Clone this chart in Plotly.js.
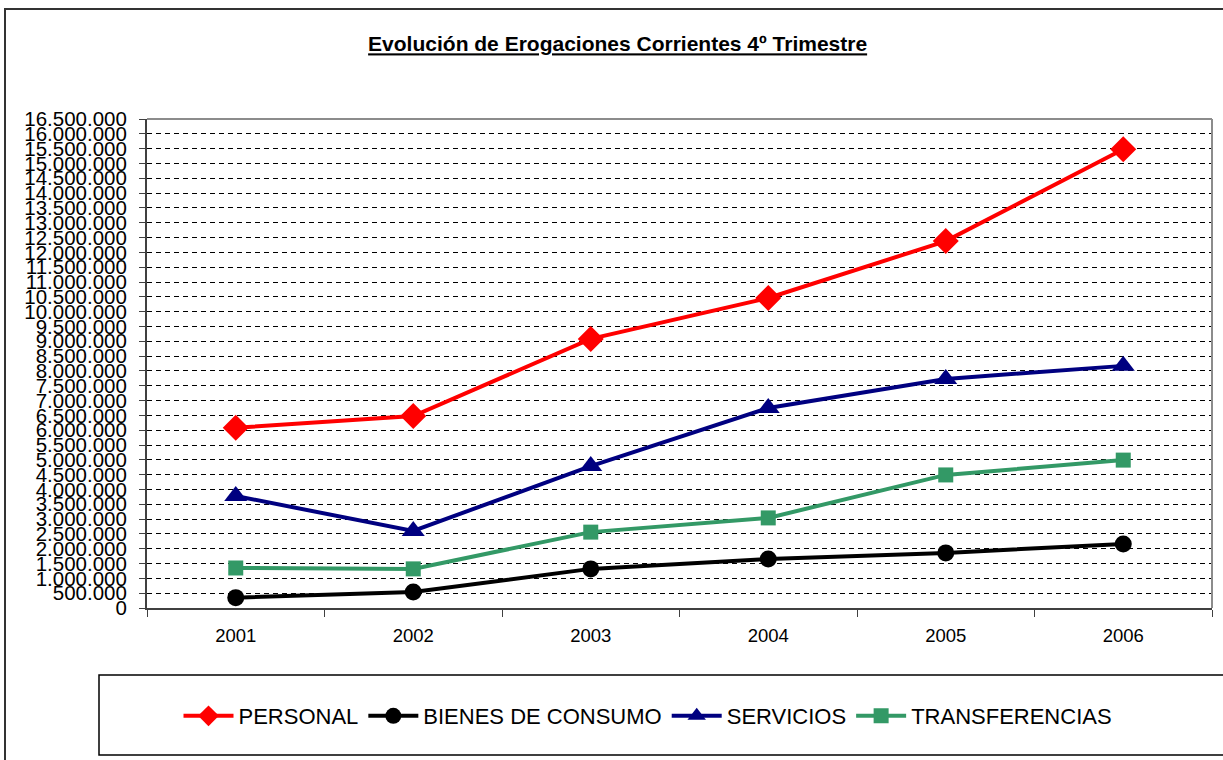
<!DOCTYPE html>
<html>
<head>
<meta charset="utf-8">
<script src="https://cdn.plot.ly/plotly-3.0.1.min.js"></script>
<style>html,body{margin:0;padding:0;background:#fff;}#chart{width:1223px;height:760px;}</style>
</head>
<body>
<div id="chart"></div>
<script>
const years = ['2001', '2002', '2003', '2004', '2005', '2006'];
const personal = [6080000, 6480000, 9080000, 10460000, 12380000, 15480000];
const bienes = [350000, 540000, 1320000, 1650000, 1860000, 2160000];
const servicios = [3780000, 2600000, 4790000, 6750000, 7730000, 8170000];
const transferencias = [1350000, 1320000, 2560000, 3040000, 4490000, 4990000];
const yTicks = [];
for (let v = 0; v <= 16500000; v += 500000) yTicks.push(v);

const W = 1223, H = 760;
const L = 147, R = 11, T = 119, B = 152;
const pw = W - L - R, ph = H - T - B;
const px = x => (x - L) / pw;
const py = y => (H - B - y) / ph;

function tr(name, y, color, symbol, size) {
  return {
    type: 'scatter', mode: 'lines+markers', name: name, x: years, y: y,
    line: {color: color, width: 4},
    marker: {color: color, symbol: symbol, size: size}
  };
}

const data = [
  tr('PERSONAL', personal, '#FF0000', 'diamond', 20),
  tr('BIENES DE CONSUMO', bienes, '#000000', 'circle', 17),
  tr('SERVICIOS', servicios, '#000080', 'triangle-up', 20),
  tr('TRANSFERENCIAS', transferencias, '#339966', 'square', 15)
];

const layout = {
  width: W, height: H,
  margin: {l: L, r: R, t: T, b: B},
  paper_bgcolor: '#ffffff', plot_bgcolor: '#ffffff',
  separators: ',.',
  font: {family: 'Liberation Sans, Arial, sans-serif', color: '#000'},
  title: {
    text: '<b><u>Evolución de Erogaciones Corrientes 4º Trimestre</u></b>',
    font: {size: 21, color: '#000'},
    x: 0.505, xref: 'container', xanchor: 'center',
    y: 1 - 44 / H, yref: 'container', yanchor: 'middle'
  },
  showlegend: true,
  legend: {
    orientation: 'h', x: px(648), xanchor: 'center', y: py(716), yanchor: 'middle',
    font: {size: 22, color: '#000'}, bgcolor: 'rgba(0,0,0,0)',
    itemwidth: 50, tracegroupgap: 0
  },
  xaxis: {
    type: 'category', range: [-0.5, 5.5], fixedrange: true,
    showgrid: false, zeroline: false,
    showline: true, linecolor: '#404040', linewidth: 2,
    ticks: 'outside', tickson: 'boundaries', ticklen: 7, tickcolor: '#404040', tickwidth: 1,
    tickfont: {size: 18.5, color: '#000'}, ticklabelstandoff: 10
  },
  yaxis: {
    range: [0, 16500000], tickmode: 'array', tickvals: yTicks, tickformat: ',d',
    showgrid: true, gridcolor: '#000000', gridwidth: 1, griddash: '5px,4px',
    zeroline: false, showline: true, linecolor: '#404040', linewidth: 2,
    ticks: 'outside', ticklen: 6, tickcolor: '#404040', tickwidth: 1,
    tickfont: {size: 20.5, color: '#000'}, ticklabelstandoff: 8
  },
  shapes: [
    {type: 'line', xref: 'paper', yref: 'paper', x0: 0, x1: 1, y0: 1, y1: 1, line: {color: '#8c8c8c', width: 2}},
    {type: 'line', xref: 'paper', yref: 'paper', x0: 1, x1: 1, y0: 0, y1: 1, line: {color: '#8c8c8c', width: 2}},
    {type: 'rect', xref: 'paper', yref: 'paper', x0: px(99), x1: px(1240), y0: py(675), y1: py(755), line: {color: '#000', width: 1.5}},
    {type: 'rect', xref: 'paper', yref: 'paper', x0: px(5), x1: px(1240), y0: py(9), y1: py(780), line: {color: '#333', width: 2}}
  ]
};

Plotly.newPlot('chart', data, layout, {displayModeBar: false, staticPlot: true});
</script>
</body>
</html>
